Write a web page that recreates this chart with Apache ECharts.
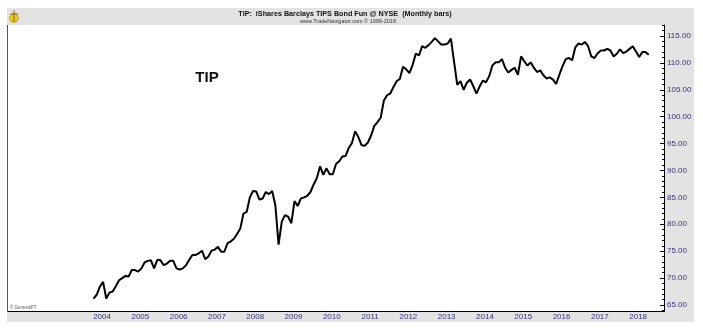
<!DOCTYPE html>
<html>
<head>
<meta charset="utf-8">
<script src="https://cdn.jsdelivr.net/npm/echarts@6/dist/echarts.min.js"></script>
<style>
  html, body { margin: 0; padding: 0; background: #ffffff; }
  #chart { width: 703px; height: 330px; }
</style>
</head>
<body>
<div id="chart"></div>
<script>
// TIP monthly closes (dividend-adjusted), one value per month from Dec 2003
const firstMonth = 2003 + 11 / 12;
const closes = [
  66.2, 66.9, 68.4, 69.3, 66.2, 67.3, 67.5, 68.5, 69.6, 70.0, 70.4, 70.3,
  71.5, 71.5, 71.2, 71.8, 72.9, 73.2, 73.3, 71.8, 73.4, 73.3, 72.4, 72.7,
  73.2, 73.2, 71.8, 71.6, 71.8, 72.4, 73.4, 74.3, 74.3, 74.6, 75.1, 73.5,
  74.0, 75.1, 75.3, 75.8, 74.9, 74.9, 76.5, 76.8, 77.3, 78.2, 79.2, 82.0,
  82.3, 85.0, 86.2, 86.1, 84.6, 84.8, 86.0, 85.6, 86.2, 83.5, 76.2, 80.5,
  81.7, 81.4, 80.2, 84.3, 83.4, 84.8, 85.0, 85.3, 86.0, 87.4, 88.6, 90.8,
  89.2, 90.4, 89.3, 89.3, 91.2, 91.7, 92.6, 92.7, 94.2, 95.1, 97.3, 96.2,
  94.7, 94.6, 95.2, 96.5, 98.3, 99.0, 99.8, 103.0, 104.0, 104.3, 105.5, 106.6,
  107.0, 109.3, 108.8, 108.1, 109.6, 111.7, 111.4, 113.1, 112.8, 113.3, 113.9, 114.6,
  114.0, 113.4, 113.4, 113.6, 114.5, 110.2, 105.9, 106.6, 105.0, 106.3, 106.9, 105.7,
  104.3, 105.6, 106.7, 106.4, 107.5, 109.5, 110.1, 110.1, 110.7,
  109.1, 108.2, 108.7, 109.1, 107.8, 111.2, 110.3, 109.5, 110.1, 109.1, 108.3, 108.6,
  107.7, 107.1, 107.3, 106.9, 106.1, 107.8, 109.4, 110.7, 110.9, 110.5, 112.9, 113.6,
  113.4, 113.9, 113.1, 111.2, 110.9, 111.8, 112.3, 112.3, 112.6, 112.3, 111.2, 111.7,
  112.5, 111.8, 112.1, 112.6, 113.1, 112.1, 111.1, 112.0, 112.0, 111.5
];
const yearLabels = [2004, 2005, 2006, 2007, 2008, 2009, 2010, 2011, 2012, 2013, 2014, 2015, 2016, 2017, 2018];
const priceLabels = [65, 70, 75, 80, 85, 90, 95, 100, 105, 110, 115];
const priceMinorTicks = [64, 66, 67, 68, 69, 71, 72, 73, 74, 76, 77, 78, 79, 81, 82, 83, 84, 86, 87, 88, 89,
  91, 92, 93, 94, 96, 97, 98, 99, 101, 102, 103, 104, 106, 107, 108, 109, 111, 112, 113, 114, 116, 117];

const titleText = 'TIP:  iShares Barclays TIPS Bond Fun @ NYSE  (Monthly bars)';
const subtitleText = 'www.TradeNavigator.com \u00a9 1999-2018';

const FONT = '"Liberation Sans", Arial, sans-serif';
const NAVY = '#34347c';
const PANEL = '#e3e3e3';

const points = closes.map((v, i) => [firstMonth + i / 12, v]);

const chart = echarts.init(document.getElementById('chart'), null, { renderer: 'canvas' });

chart.setOption({
  animation: false,
  backgroundColor: '#ffffff',
  textStyle: { fontFamily: FONT },
  grid: { left: 8, right: 39, top: 25, bottom: 18.5, containLabel: false },
  graphic: [
    // header band, right label panel and bottom label strip
    { type: 'rect', z: -10, shape: { x: 7, y: 8, width: 687, height: 17 }, style: { fill: PANEL } },
    { type: 'rect', z: -10, shape: { x: 664, y: 25, width: 30, height: 297 }, style: { fill: PANEL } },
    { type: 'rect', z: -10, shape: { x: 7, y: 312, width: 657, height: 10 }, style: { fill: PANEL } },
    // left frame line
    { type: 'line', z: 5, shape: { x1: 7.5, y1: 25, x2: 7.5, y2: 312 }, style: { stroke: '#555555', lineWidth: 1 } },
    // small logo in the header corner
    { type: 'circle', z: 5, shape: { cx: 14, cy: 18, r: 4.5 }, style: { fill: '#e8c830', stroke: '#b89a10', lineWidth: 0.8 } },
    { type: 'line', z: 6, shape: { x1: 14, y1: 10, x2: 14, y2: 22 }, style: { stroke: '#8a7010', lineWidth: 1 } },
    { type: 'line', z: 6, shape: { x1: 10, y1: 14, x2: 18, y2: 14 }, style: { stroke: '#8a7010', lineWidth: 1 } },
    // header texts
    { type: 'text', z: 5, x: 345, y: 13.5, scaleX: 0.9, style: { text: titleText, font: 'bold 8px ' + FONT, fill: '#111111', align: 'center', verticalAlign: 'middle' } },
    { type: 'text', z: 5, x: 348, y: 21, style: { text: subtitleText, font: '5.5px ' + FONT, fill: '#333333', align: 'center', verticalAlign: 'middle' } },
    // symbol caption inside the plot
    { type: 'text', z: 5, x: 207, y: 78, style: { text: 'TIP', font: 'bold 15px ' + FONT, fill: '#111111', align: 'center', verticalAlign: 'middle' } },
    // data vendor credit
    { type: 'text', z: 5, x: 10, y: 307.5, style: { text: '\u00a9 GenesisFT', font: '4.5px ' + FONT, fill: '#555555', align: 'left', verticalAlign: 'middle' } }
  ],
  xAxis: {
    type: 'value',
    min: firstMonth - 2.233,
    max: firstMonth + 14.899,
    splitLine: { show: false },
    axisLine: { show: true, onZero: false, lineStyle: { color: '#000000', width: 1 } },
    axisTick: { show: false },
    axisLabel: {
      customValues: yearLabels.map(y => y + 0.14),
      formatter: v => String(Math.floor(v)),
      color: NAVY,
      fontSize: 8,
      fontFamily: FONT,
      margin: 1.5
    }
  },
  yAxis: [
    {
      type: 'value',
      position: 'right',
      min: 63.79,
      max: 117.04,
      splitLine: { show: false },
      axisLine: { show: true, lineStyle: { color: '#000000', width: 1 } },
      axisTick: { show: true, inside: true, length: 4, customValues: priceLabels, lineStyle: { color: '#000000' } },
      axisLabel: {
        customValues: priceLabels,
        formatter: v => v.toFixed(2),
        color: NAVY,
        fontSize: 8,
        fontFamily: FONT,
        margin: 3
      }
    },
    {
      type: 'value',
      position: 'right',
      min: 63.79,
      max: 117.04,
      splitLine: { show: false },
      axisLine: { show: false },
      axisTick: { show: true, inside: true, length: 2, customValues: priceMinorTicks, lineStyle: { color: '#000000' } },
      axisLabel: { show: false }
    }
  ],
  series: [{
    type: 'line',
    data: points,
    yAxisIndex: 0,
    showSymbol: false,
    symbol: 'none',
    smooth: false,
    lineStyle: { color: '#000000', width: 2 },
    z: 3
  }]
});
</script>
</body>
</html>
